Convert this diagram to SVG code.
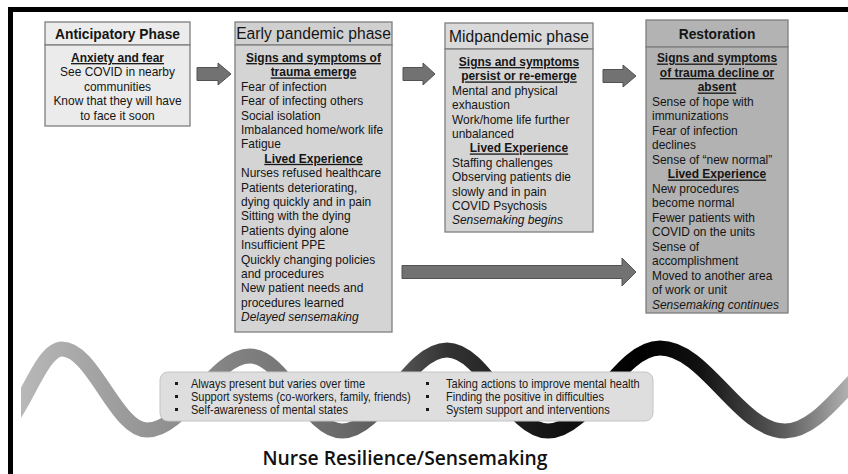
<svg xmlns="http://www.w3.org/2000/svg" width="848" height="474" viewBox="0 0 848 474">
  <style>
    .frame { fill: none; stroke: #000; stroke-width: 5; }
    .box { stroke: #7f7f7f; stroke-width: 1.3; }
    .t { font-family: "Liberation Sans", Arial, sans-serif; font-size: 13px; fill: #151515; }
    .c { text-anchor: middle; }
    .u { font-weight: bold; text-decoration: underline; }
    .i { font-style: italic; }
    .hb { font-size: 15px; font-weight: bold; }
    .hr { font-size: 17px; }
    .arr { fill: #727272; stroke: #525252; stroke-width: 1; }
    .wave { fill: none; stroke: url(#waveShade); stroke-width: 15; }
    .note { fill: #dedede; stroke: #c4c4c4; stroke-width: 1; }
    .bt { font-family: "Liberation Sans", Arial, sans-serif; font-size: 12px; fill: #1a1a1a; }
    .bul { fill: #1a1a1a; }
    .title { font-family: "Open Sans", "Noto Sans", sans-serif; font-size: 19px; font-weight: 600; fill: #111; text-anchor: middle; }
  </style>
  <defs>
    <linearGradient id="waveShade" gradientUnits="userSpaceOnUse" x1="21" y1="0" x2="848" y2="0">
      <stop offset="0" stop-color="#b8b8b8"/>
      <stop offset="0.152" stop-color="#959595"/>
      <stop offset="0.277" stop-color="#7e7e7e"/>
      <stop offset="0.388" stop-color="#6a6a6a"/>
      <stop offset="0.458" stop-color="#555555"/>
      <stop offset="0.515" stop-color="#333333"/>
      <stop offset="0.637" stop-color="#151515"/>
      <stop offset="0.748" stop-color="#000000"/>
      <stop offset="0.821" stop-color="#111111"/>
      <stop offset="0.924" stop-color="#5e5e5e"/>
      <stop offset="1" stop-color="#b0b0b0"/>
    </linearGradient>
    <clipPath id="waveClip">
      <rect x="21" y="300" width="827" height="174"/>
    </clipPath>
  </defs>

  <rect x="0" y="0" width="848" height="474" fill="#fff"/>
  <!-- outer frame: only top and left edges fall inside the canvas -->
  <path class="frame" d="M10.5 480 V9.5 H852"/>

  <!-- resilience wave -->
  <g id="resilience-wave" clip-path="url(#waveClip)">
    <path class="wave" d="M-5 430 C19.3 430 37.7 349 62 349 C92.9 349 116.1 430 147 430 C184.4 430 212.6 356 250 356 C283.4 356 308.6 431 342 431 C380.2 431 408.8 350 447 350 C483.7 350 511.3 431 548 431 C588.7 431 619.3 348 660 348 C705.4 348 739.6 431 785 431 C828.6 431 861.4 349 905 349"/>
  </g>

  <!-- connectors -->
  <g id="connectors">
    <polygon class="arr" points="197,67.5 218,67.5 218,63 231,74 218,85 218,80.5 197,80.5"/>
    <polygon class="arr" points="403,67.5 423,67.5 423,63 435,74 423,85 423,80.5 403,80.5"/>
    <polygon class="arr" points="603,69.5 623,69.5 623,65 636,76 623,87 623,82.5 603,82.5"/>
    <polygon class="arr" points="402,265.5 622,265.5 622,258 636,272 622,286 622,278.5 402,278.5"/>
  </g>

  <!-- Anticipatory phase -->
  <g id="anticipatory">
    <rect class="box" x="45" y="22" width="145" height="23" fill="#ececec"/>
    <rect class="box" x="45" y="45" width="145" height="81" fill="#ebebeb"/>
    <g transform="translate(117.5 0) scale(0.92 1)">
      <text class="t c hb" x="0" y="39">Anticipatory Phase</text>
      <text class="t c u" x="0" y="62">Anxiety and fear</text>
      <text class="t c" x="0" y="76.5">See COVID in nearby</text>
      <text class="t c" x="0" y="91">communities</text>
      <text class="t c" x="0" y="105.5">Know that they will have</text>
      <text class="t c" x="0" y="120">to face it soon</text>
    </g>
  </g>

  <!-- Early pandemic phase -->
  <g id="early-pandemic">
    <rect class="box" x="235" y="22" width="157" height="23" fill="#d0d0d0"/>
    <rect class="box" x="235" y="45" width="157" height="287" fill="#d4d4d4"/>
    <g transform="translate(241 0) scale(0.92 1)">
      <text class="t c hr" x="78.8" y="39.5">Early pandemic phase</text>
      <text class="t c u" x="78.8" y="62">Signs and symptoms of</text>
      <text class="t c u" x="78.8" y="76.4">trauma emerge</text>
      <text class="t" x="0" y="90.8">Fear of infection</text>
      <text class="t" x="0" y="105.2">Fear of infecting others</text>
      <text class="t" x="0" y="119.6">Social isolation</text>
      <text class="t" x="0" y="134">Imbalanced home/work life</text>
      <text class="t" x="0" y="148.4">Fatigue</text>
      <text class="t c u" x="78.8" y="162.8">Lived Experience</text>
      <text class="t" x="0" y="177.2">Nurses refused healthcare</text>
      <text class="t" x="0" y="191.6">Patients deteriorating,</text>
      <text class="t" x="0" y="206">dying quickly and in pain</text>
      <text class="t" x="0" y="220.4">Sitting with the dying</text>
      <text class="t" x="0" y="234.8">Patients dying alone</text>
      <text class="t" x="0" y="249.2">Insufficient PPE</text>
      <text class="t" x="0" y="263.6">Quickly changing policies</text>
      <text class="t" x="0" y="278">and procedures</text>
      <text class="t" x="0" y="292.4">New patient needs and</text>
      <text class="t" x="0" y="306.8">procedures learned</text>
      <text class="t i" x="0" y="321.2">Delayed sensemaking</text>
    </g>
  </g>

  <!-- Midpandemic phase -->
  <g id="midpandemic">
    <rect class="box" x="445" y="23" width="148" height="26" fill="#dadada"/>
    <rect class="box" x="445" y="49" width="148" height="183" fill="#d5d5d5"/>
    <g transform="translate(452 0) scale(0.92 1)">
      <text class="t c hr" x="72.8" y="42">Midpandemic phase</text>
      <text class="t c u" x="72.8" y="66">Signs and symptoms</text>
      <text class="t c u" x="72.8" y="80.4">persist or re-emerge</text>
      <text class="t" x="0" y="94.8">Mental and physical</text>
      <text class="t" x="0" y="109.2">exhaustion</text>
      <text class="t" x="0" y="123.6">Work/home life further</text>
      <text class="t" x="0" y="138">unbalanced</text>
      <text class="t c u" x="72.8" y="152.4">Lived Experience</text>
      <text class="t" x="0" y="166.8">Staffing challenges</text>
      <text class="t" x="0" y="181.2">Observing patients die</text>
      <text class="t" x="0" y="195.6">slowly and in pain</text>
      <text class="t" x="0" y="210">COVID Psychosis</text>
      <text class="t i" x="0" y="224.4">Sensemaking begins</text>
    </g>
  </g>

  <!-- Restoration -->
  <g id="restoration">
    <rect class="box" x="646" y="20" width="142" height="27" fill="#b3b3b3"/>
    <rect class="box" x="646" y="47" width="142" height="266" fill="#b2b2b2"/>
    <g transform="translate(652 0) scale(0.92 1)">
      <text class="t c hb" x="70.65" y="39">Restoration</text>
      <text class="t c u" x="70.65" y="62.5">Signs and symptoms</text>
      <text class="t c u" x="70.65" y="77">of trauma decline or</text>
      <text class="t c u" x="70.65" y="91.5">absent</text>
      <text class="t" x="0" y="106">Sense of hope with</text>
      <text class="t" x="0" y="120.5">immunizations</text>
      <text class="t" x="0" y="135">Fear of infection</text>
      <text class="t" x="0" y="149.5">declines</text>
      <text class="t" x="0" y="164">Sense of “new normal”</text>
      <text class="t c u" x="70.65" y="178.5">Lived Experience</text>
      <text class="t" x="0" y="193">New procedures</text>
      <text class="t" x="0" y="207.5">become normal</text>
      <text class="t" x="0" y="222">Fewer patients with</text>
      <text class="t" x="0" y="236.5">COVID on the units</text>
      <text class="t" x="0" y="251">Sense of</text>
      <text class="t" x="0" y="265.5">accomplishment</text>
      <text class="t" x="0" y="280">Moved to another area</text>
      <text class="t" x="0" y="294.5">of work or unit</text>
      <text class="t i" x="0" y="309">Sensemaking continues</text>
    </g>
  </g>

  <!-- resilience factors -->
  <g id="resilience-factors">
    <rect class="note" x="160" y="372" width="493" height="49" rx="8"/>
    <rect class="bul" x="175" y="382" width="3" height="3"/>
    <rect class="bul" x="175" y="395" width="3" height="3"/>
    <rect class="bul" x="175" y="408" width="3" height="3"/>
    <rect class="bul" x="426" y="382" width="3" height="3"/>
    <rect class="bul" x="426" y="395" width="3" height="3"/>
    <rect class="bul" x="426" y="408" width="3" height="3"/>
    <g transform="translate(191 0) scale(0.92 1)">
      <text class="bt" x="0" y="388">Always present but varies over time</text>
      <text class="bt" x="0" y="401">Support systems (co-workers, family, friends)</text>
      <text class="bt" x="0" y="414">Self-awareness of mental states</text>
    </g>
    <g transform="translate(446 0) scale(0.92 1)">
      <text class="bt" x="0" y="388">Taking actions to improve mental health</text>
      <text class="bt" x="0" y="401">Finding the positive in difficulties</text>
      <text class="bt" x="0" y="414">System support and interventions</text>
    </g>
  </g>

  <text id="title" class="title" x="405" y="465" textLength="285" lengthAdjust="spacingAndGlyphs">Nurse Resilience/Sensemaking</text>
</svg>
